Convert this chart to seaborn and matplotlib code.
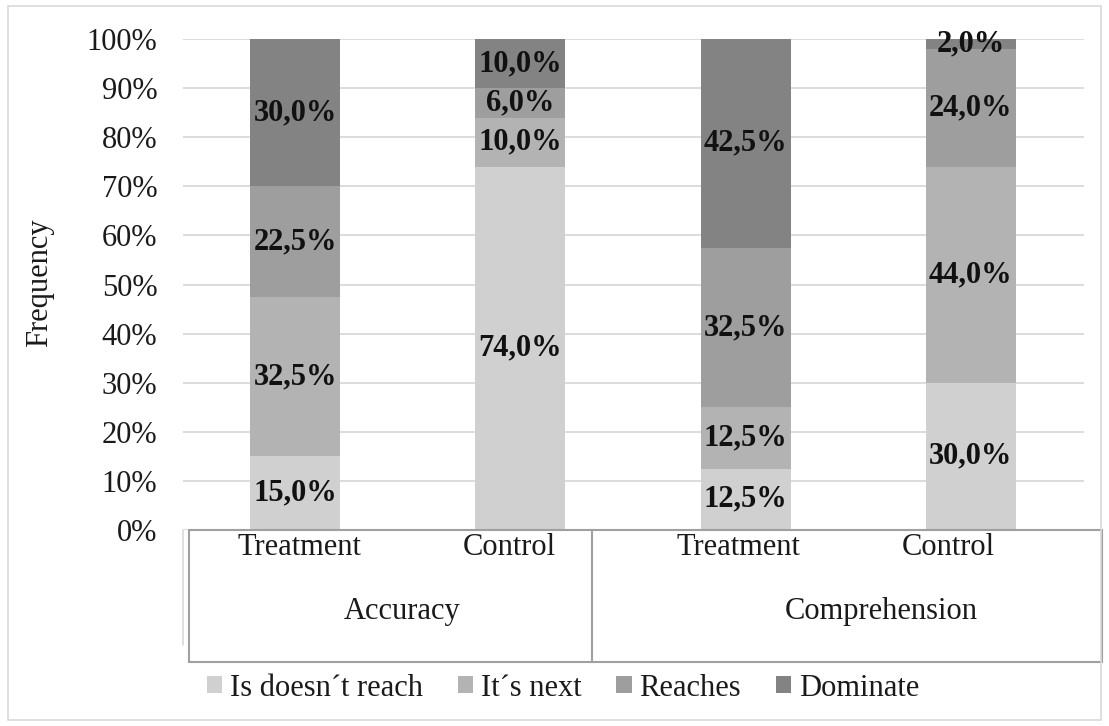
import numpy as np
import pandas as pd
import matplotlib
matplotlib.use("Agg")
import matplotlib.pyplot as plt
import matplotlib.transforms as mtransforms
from matplotlib.patches import Patch, Rectangle
from matplotlib.lines import Line2D
import seaborn as sns

# ---- data ----
groups = ["Accuracy", "Accuracy", "Comprehension", "Comprehension"]
conditions = ["Treatment", "Control", "Treatment", "Control"]
levels = ["Is doesn´t reach", "It´s next", "Reaches", "Dominate"]
is_doesnt_reach = [15.0, 74.0, 12.5, 30.0]
its_next = [32.5, 10.0, 12.5, 44.0]
reaches = [22.5, 6.0, 32.5, 24.0]
dominate = [30.0, 10.0, 42.5, 2.0]
y_ticks = [0, 10, 20, 30, 40, 50, 60, 70, 80, 90, 100]

colors = ["#d0d0d0", "#b3b3b3", "#9e9e9e", "#838383"]

sns.set_theme(style="white")
plt.rcParams["font.family"] = ["Liberation Serif", "DejaVu Serif"]

bars = [f"{g}|{c}" for g, c in zip(groups, conditions)]
vals = np.array([is_doesnt_reach, its_next, reaches, dominate])
cum = np.cumsum(vals, axis=0)

W, H = 1109, 726
fig = plt.figure(figsize=(W / 100, H / 100), dpi=100)
ax = fig.add_axes([182.5 / W, 1 - 530 / H, (1083.5 - 182.5) / W, (530 - 39) / H])

for i in reversed(range(len(levels))):
    df = pd.DataFrame({"bar": bars, "h": cum[i]})
    sns.barplot(data=df, x="bar", y="h", order=bars, color=colors[i],
                saturation=1, width=0.4, errorbar=None, linewidth=0,
                edgecolor="none", ax=ax, zorder=2)

# labels
for j in range(len(bars)):
    for i in range(len(levels)):
        v = vals[i, j]
        yc = cum[i, j] - v / 2
        ax.text(j, yc, f"{v:.1f}".replace(".", ",") + "%", ha="center",
                va="center", fontsize=22, fontweight="bold", color="#111111",
                zorder=5)

ax.set_xlim(-0.5, 3.5)
ax.set_ylim(0, 100)
ax.set_yticks(y_ticks)
ax.set_yticklabels([f"{t}%" for t in y_ticks], fontsize=22, color="#1a1a1a")
ax.tick_params(axis="y", length=0, pad=18)
ax.set_xticks([])
ax.set_xlabel("")
ax.set_ylabel("")
ax.yaxis.grid(True, color="#d9d9d9", linewidth=1.3, zorder=0)
ax.set_axisbelow(True)
for s in ax.spines.values():
    s.set_visible(False)

# multi-level category box
tr = mtransforms.blended_transform_factory(ax.transData, ax.transAxes)
box_l, box_div, box_r = -0.471, 1.32, 3.58
box_t, box_b = 0.0, -0.269
bc = "#a0a0a0"
for xs, ys in [([box_l, box_r], [box_t, box_t]),
               ([box_l, box_r], [box_b, box_b]),
               ([box_l, box_l], [box_t, box_b]),
               ([box_div, box_div], [box_t, box_b]),
               ([box_r, box_r], [box_t, box_b])]:
    ax.add_line(Line2D(xs, ys, transform=tr, color=bc, lw=1.5, clip_on=False))
ax.add_line(Line2D([-0.5, -0.5], [0, -0.234], transform=tr, color="#d9d9d9",
                   lw=1.2, clip_on=False))

cond_x = [0.018, 0.95, 1.97, 2.90]
for xpos, c in zip(cond_x, conditions):
    ax.text(xpos, -0.035, c, transform=tr, ha="center", va="center",
            fontsize=22, color="#1a1a1a")
ax.text(0.475, -0.167, groups[0], transform=tr, ha="center",
        va="center", fontsize=22, color="#1a1a1a")
ax.text(2.60, -0.167, groups[2], transform=tr,
        ha="center", va="center", fontsize=22, color="#1a1a1a")

fig.text(40 / W, 1 - 283 / H, "Frequency", rotation=90, ha="center",
         va="center", fontsize=22, color="#1a1a1a")

handles = [Patch(facecolor=c, edgecolor="none") for c in colors]
fig.legend(handles, levels, loc="center", bbox_to_anchor=(563 / W, 1 - 688 / H),
           ncol=4, frameon=False, handlelength=0.5, handleheight=0.5,
           handletextpad=0.25, columnspacing=1.15, fontsize=22,
           labelcolor="#1a1a1a")

fig.add_artist(Rectangle((8 / W, 1 - 720 / H), (1101 - 8) / W, (720 - 6) / H,
                         transform=fig.transFigure, fill=False,
                         edgecolor="#d9d9d9", lw=1.2))

fig.savefig("out.png", dpi=100)
